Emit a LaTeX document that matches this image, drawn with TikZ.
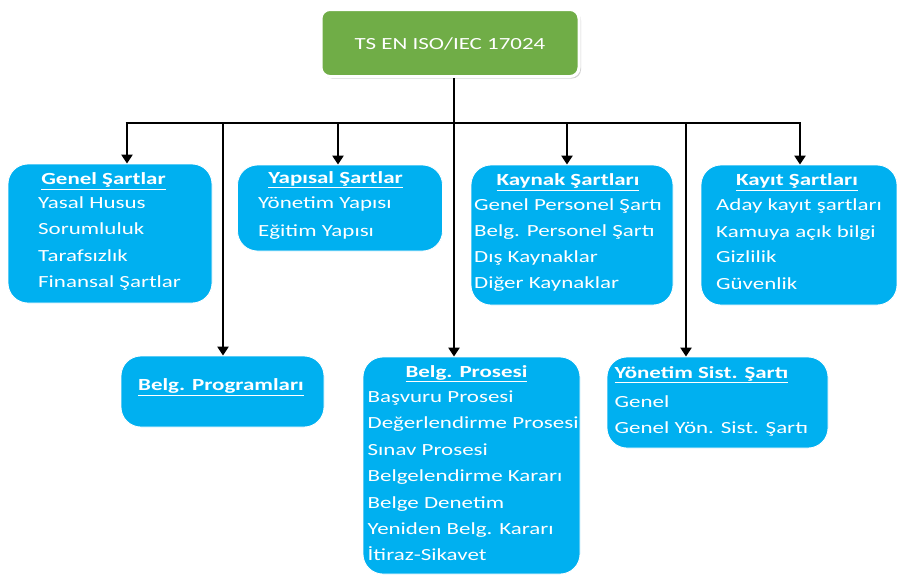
\documentclass[tikz,border=0pt]{standalone}
\usepackage{fontspec}
\setmainfont{Carlito}[FakeStretch=1.35]
\usetikzlibrary{arrows.meta,shadows}
\definecolor{boxblue}{HTML}{00B0F0}
\definecolor{boxgreen}{HTML}{70AD47}
\tikzset{
  bluebox/.style={draw=white, line width=0.8pt, fill=boxblue, rounded corners=20pt, inner sep=0pt},
  greenbox/.style={draw=white, line width=3pt, fill=boxgreen, rounded corners=9pt, inner sep=0pt,
    drop shadow={shadow xshift=2pt, shadow yshift=-2pt, opacity=0.35, fill=gray}},
  ttl/.style={text=white, font=\fontsize{17}{20}\selectfont\bfseries, inner sep=0pt, text height=0.7em, text depth=0.2em, yshift=-2.5pt},
  itm/.style={text=white, font=\fontsize{17}{20}\selectfont, inner sep=0pt, anchor=west, text height=0.7em, text depth=0.2em, yshift=-3pt},
  conn/.style={line width=2.6pt, black},
  arr/.style={line width=2.6pt, black, -{Triangle[length=9pt,width=11pt]}}
}
\begin{document}
\begin{tikzpicture}[x=1pt,y=-1pt]
\useasboundingbox (0,0) rectangle (897,576);
\fill[white] (0,0) rectangle (897,576);

% top
\node[greenbox, minimum width=258pt, minimum height=67pt] (top) at (450,43) {};
\node[text=white, font=\fontsize{17}{20}\selectfont, inner sep=0pt, yshift=-1pt] (toptxt) at (450,43) {TS EN ISO/IEC 17024};

% boxes
\node[bluebox, minimum width=204pt, minimum height=139pt] (genel) at (110,233.5) {};
\node[bluebox, minimum width=205pt, minimum height=86pt] (yapi) at (340,208) {};
\node[bluebox, minimum width=202pt, minimum height=140pt] (kaynak) at (572,235) {};
\node[bluebox, minimum width=196pt, minimum height=140pt] (kayit) at (799,235) {};
\node[bluebox, minimum width=203pt, minimum height=71pt] (prog) at (222.5,391.5) {};
\node[bluebox, minimum width=217pt, minimum height=217pt] (proses) at (471.5,465.5) {};
\node[bluebox, minimum width=221pt, minimum height=91pt] (yonetim) at (717.5,402.5) {};

% connectors
\coordinate (bar) at (454,123);
\coordinate (d1) at (127,123);
\coordinate (d2) at (223,123);
\coordinate (d3) at (338,123);
\coordinate (d4) at (454,123);
\coordinate (d5) at (567,123);
\coordinate (d6) at (686,123);
\coordinate (d7) at (800,123);
\draw[conn] (top.south -| bar) -- (bar);
\draw[conn] ([xshift=-1.3pt]d1) -- ([xshift=1.3pt]d7);
\draw[arr] (d1) -- (d1 |- genel.north);
\draw[arr] (d2) -- (d2 |- prog.north);
\draw[arr] (d3) -- (d3 |- yapi.north);
\draw[arr] (d4) -- (d4 |- proses.north);
\draw[arr] (d5) -- (d5 |- kaynak.north);
\draw[arr] (d6) -- (d6 |- yonetim.north);
\draw[arr] (d7) -- (d7 |- kayit.north);

% Genel Şartlar
\node[ttl] (g0) at (103.5,179.5) {\underline{Genel Şartlar}};
\node[itm] (g1) at (38,203) {Yasal Husus};
\node[itm] (g2) at (38,229) {Sorumluluk};
\node[itm] (g3) at (38,255.5) {Tarafsızlık};
\node[itm] (g4) at (38,282) {Finansal Şartlar};

% Yapısal Şartlar
\node[ttl] (y0) at (335.5,178) {\underline{Yapısal Şartlar}};
\node[itm] (y1) at (258,203) {Yönetim Yapısı};
\node[itm] (y2) at (258,230.5) {Eğitim Yapısı};

% Kaynak Şartları
\node[ttl] (k0) at (568,180.5) {\underline{Kaynak Şartları}};
\node[itm] (k1) at (474,204.5) {Genel Personel Şartı};
\node[itm] (k2) at (474,231) {Belg. Personel Şartı};
\node[itm] (k3) at (474,257) {Dış Kaynaklar};
\node[itm] (k4) at (474,283) {Diğer Kaynaklar};

% Kayıt Şartları
\node[ttl] (r0) at (797,180.5) {\underline{Kayıt Şartları}};
\node[itm] (r1) at (716,205) {Aday kayıt şartları};
\node[itm] (r2) at (716,231.5) {Kamuya açık bilgi};
\node[itm] (r3) at (716,257) {Gizlilik};
\node[itm] (r4) at (716,284) {Güvenlik};

% Belg. Programları
\node[ttl] (p0) at (221,385.5) {\underline{Belg. Programları}};

% Belg. Prosesi
\node[ttl] (s0) at (466.5,372) {\underline{Belg. Prosesi}};
\node[itm] (s1) at (367.5,397) {Başvuru Prosesi};
\node[itm] (s2) at (367.5,423) {Değerlendirme Prosesi};
\node[itm] (s3) at (367.5,449.5) {Sınav Prosesi};
\node[itm] (s4) at (367.5,476) {Belgelendirme Kararı};
\node[itm] (s5) at (367.5,502.5) {Belge Denetim};
\node[itm] (s6) at (367.5,529) {Yeniden Belg. Kararı};
\node[itm] (s7) at (367.5,555) {İtiraz-Sikavet};

% Yönetim Sist. Şartı
\node[ttl, anchor=west] (m0) at (614.5,373) {\underline{Yönetim Sist. Şartı}};
\node[itm] (m1) at (614.5,401.5) {Genel};
\node[itm] (m2) at (614.5,428) {Genel Yön. Sist. Şartı};
\end{tikzpicture}
\end{document}
